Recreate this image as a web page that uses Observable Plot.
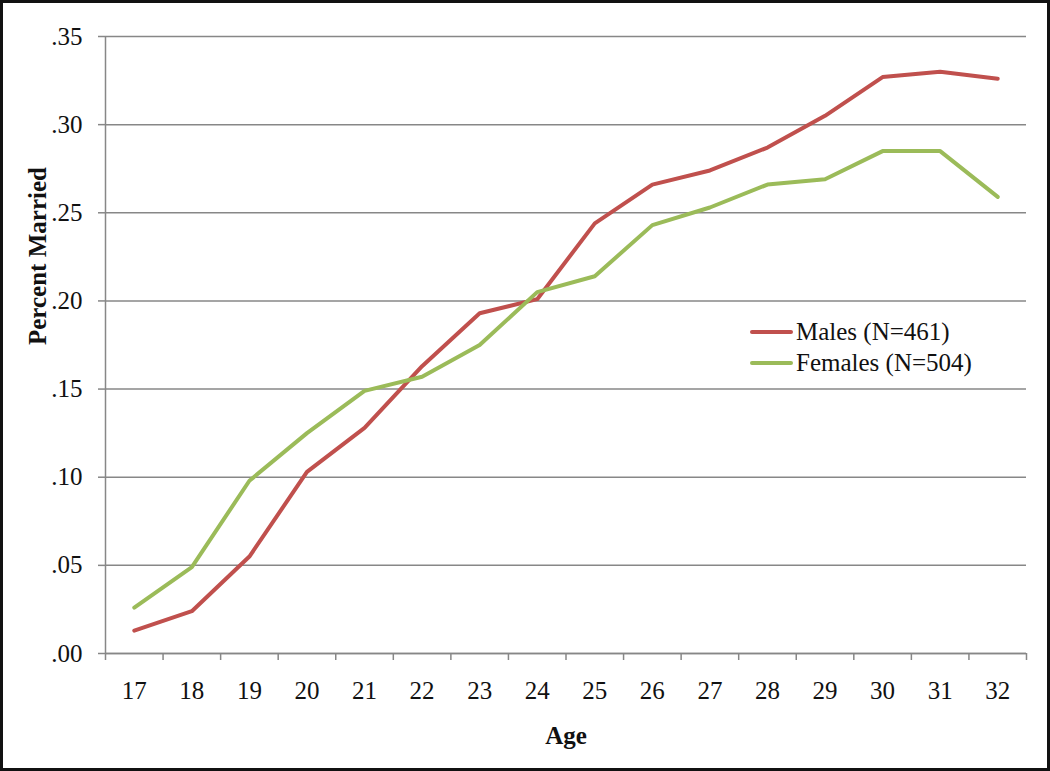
<!DOCTYPE html>
<html>
<head>
<meta charset="utf-8">
<script src="https://cdn.jsdelivr.net/npm/d3@7"></script>
<script src="https://cdn.jsdelivr.net/npm/@observablehq/plot@0.6"></script>
<style>
  html, body { margin: 0; padding: 0; background: #fff; }
  #wrap { position: relative; width: 1050px; height: 771px; }
  #wrap svg { display: block; outline: 3px solid #111; outline-offset: -3px; }
  #legend { position: absolute; left: 750px; top: 316px; font-family: "Liberation Serif", "Times New Roman", serif; font-size: 25px; color: #111; }
  #legend .row { display: flex; align-items: center; height: 31px; }
  #legend .sw { width: 43px; height: 4px; border-radius: 2px; margin-right: 3px; }
</style>
</head>
<body>
<div id="wrap"><div id="legend"></div></div>
<script>
const ages = [17, 18, 19, 20, 21, 22, 23, 24, 25, 26, 27, 28, 29, 30, 31, 32];
const males = [0.013, 0.024, 0.055, 0.103, 0.128, 0.163, 0.193, 0.201, 0.244, 0.266, 0.274, 0.287, 0.305, 0.327, 0.330, 0.326];
const females = [0.026, 0.049, 0.098, 0.125, 0.149, 0.157, 0.175, 0.205, 0.214, 0.243, 0.253, 0.266, 0.269, 0.285, 0.285, 0.259];
const seriesNames = ["Males (N=461)", "Females (N=504)"];
const seriesColors = ["#C0504D", "#9BBB59"];
const yTicks = [0, 0.05, 0.10, 0.15, 0.20, 0.25, 0.30, 0.35];

const data = [];
ages.forEach((a, i) => {
  data.push({age: a, value: males[i], series: seriesNames[0]});
  data.push({age: a, value: females[i], series: seriesNames[1]});
});
const xMin = ages[0] - 0.5, xMax = ages[ages.length - 1] + 0.5;
const boundaries = ages.map(a => a - 0.5).concat([xMax]);
const fmt = d => d3.format(".2f")(d).replace(/^0/, "");
const gray = "#878787";

const chart = Plot.plot({
  width: 1050,
  height: 771,
  marginLeft: 105,
  marginRight: 24,
  marginTop: 36,
  marginBottom: 118,
  style: {fontFamily: "Liberation Serif, Times New Roman, serif", fontSize: "25px", color: "#111", background: "#fff"},
  x: {type: "linear", domain: [xMin, xMax]},
  y: {domain: [0, 0.35]},
  color: {domain: seriesNames, range: seriesColors},
  marks: [
    Plot.gridY(yTicks, {stroke: gray, strokeOpacity: 1, strokeWidth: 1.5}),
    Plot.ruleX([xMin], {y1: 0, y2: 0.35, stroke: gray, strokeWidth: 1.5}),
    Plot.ruleY([0], {stroke: gray, strokeWidth: 1.5}),
    Plot.axisY({ticks: yTicks, tickSize: 7, tickPadding: 16, tickFormat: fmt, stroke: gray, strokeWidth: 1.5, fontSize: 25, label: null}),
    Plot.axisX({ticks: boundaries, tickSize: 7, tickFormat: () => "", stroke: gray, strokeWidth: 1.5, label: null}),
    Plot.axisX({ticks: ages, tickSize: 0, tickPadding: 28, tickFormat: d => String(d), fontSize: 25, label: null}),
    Plot.line(data, {x: "age", y: "value", z: "series", stroke: "series", strokeWidth: 4, strokeLinejoin: "round", strokeLinecap: "round"}),
    Plot.text(["Age"], {frameAnchor: "bottom", dy: 82, fontWeight: "bold", fontSize: 25, lineAnchor: "middle"}),
    Plot.text(["Percent Married"], {frameAnchor: "left", dx: -68, rotate: -90, fontWeight: "bold", fontSize: 25, lineAnchor: "middle"})
  ]
});
document.getElementById("wrap").prepend(chart);

const legend = document.getElementById("legend");
seriesNames.forEach((n, i) => {
  const row = document.createElement("div");
  row.className = "row";
  const sw = document.createElement("span");
  sw.className = "sw";
  sw.style.background = seriesColors[i];
  const t = document.createElement("span");
  t.textContent = n;
  row.appendChild(sw);
  row.appendChild(t);
  legend.appendChild(row);
});
</script>
</body>
</html>
